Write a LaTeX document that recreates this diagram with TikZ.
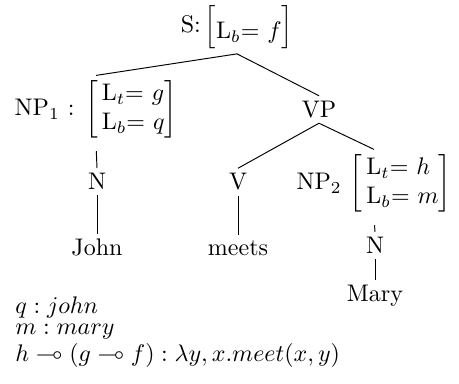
\documentclass[tikz,border=0pt]{standalone}
\usepackage{amsmath}
\usepackage{amssymb}
\usepackage{tikz}
\usetikzlibrary{positioning}
\tikzset{
  cat/.style={
    inner sep=2pt
  },
  branch/.style={
    line width=0.4pt,
    draw=black
  },
  fsbranch/.style={
    branch,
    shorten <=3.2pt
  },
  semline/.style={
    anchor=base west,
    inner sep=0pt
  }
}
\newcommand{\fsmat}[1]{\left[\begin{array}{@{\,}l@{}}#1\end{array}\right]}

\begin{document}
\begin{tikzpicture}[x=0.41667pt,y=-0.41667pt]
\useasboundingbox (0,0) rectangle (459,384);

% tree nodes
\node[cat] (s) at (237,27) {S:$\,\Bigl[\raisebox{-2.3pt}{L$_b$= $f$}\Bigr]$};

\node[cat] (np1) at (96,109.5)
{NP$_1$ : $\fsmat{\mathrm{L}_t\text{= }g\\ \mathrm{L}_b\text{= }q}$};
\node[cat] (vp) at (319,109.5) {VP};

\node[cat] (n1) at (97,181.5) {N};
\node[cat] (v) at (238,182) {V};
\node[cat] (np2) at (374,183.5)
{NP$_2$ $\fsmat{\mathrm{L}_t\text{= }h\\ \mathrm{L}_b\text{= }m}$};

\node[cat] (john) at (97,247.5) {John};
\node[cat] (meets) at (238,248) {meets};
\node[cat] (n2) at (375,245.5) {N};

\node[cat] (mary) at (375,295.5) {Mary};

% branches
\draw[branch] (s.south) -- (np1.north);
\draw[branch] (s.south) -- (vp.north);
\draw[fsbranch] (np1.south) -- (n1.north);
\draw[branch] (n1.south) -- (john.north);
\draw[branch] (vp.south) -- (v.north);
\draw[branch] (vp.south) -- (np2.north);
\draw[branch] (v.south) -- (meets.north);
\draw[fsbranch] (np2.south) -- (n2.north);
\draw[branch] (n2.south) -- (mary.north);

% lexical meanings
\node[semline] (semq) at (15,314) {$q : john$};
\node[semline] (semm) at (15,334.5) {$m : mary$};
\node[semline] (semv) at (15,361.5) {$h \multimap (g \multimap f) : \lambda y, x.meet(x,y)$};

\end{tikzpicture}
\end{document}
